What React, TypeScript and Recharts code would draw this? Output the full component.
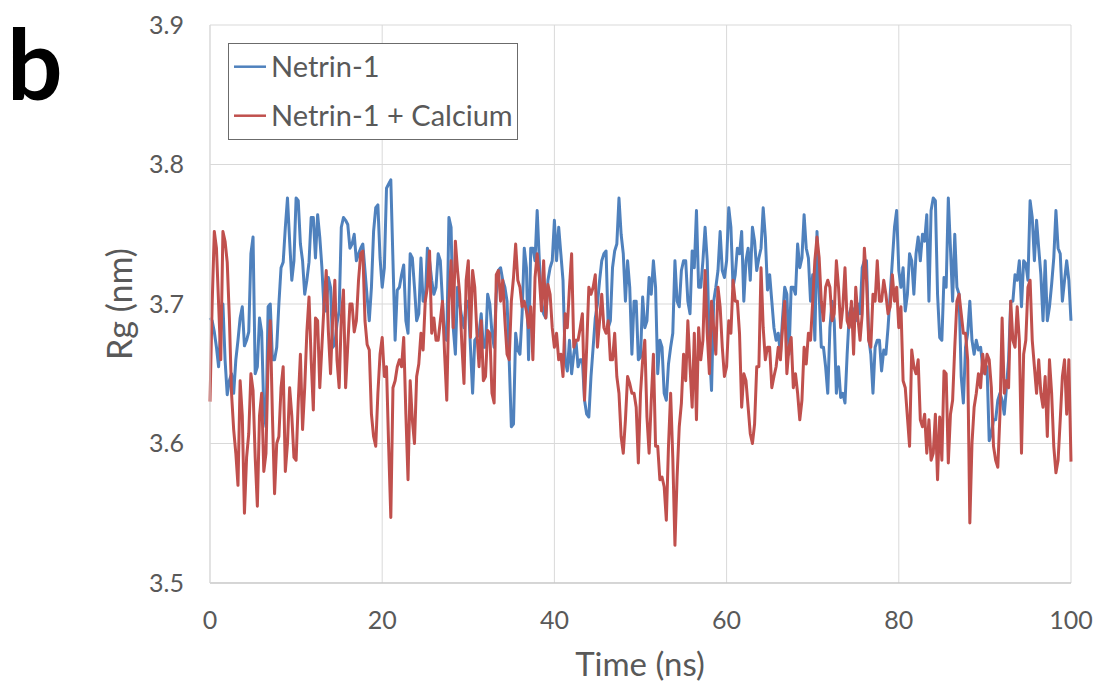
import React from 'react';
import { LineChart, Line, XAxis, YAxis, CartesianGrid, Legend } from 'recharts';

// Rg (nm) — Netrin-1, read at t = 0, 0.5, 1.0 ... 100 ns
const netrinHalf: number[] = [
  3.69, 3.68, 3.655, 3.70, 3.635, 3.65, 3.66, 3.69, 3.67, 3.68, 3.748, 3.655, 3.68, 3.612, 3.70, 3.66, 3.70, 3.73, 3.776, 3.717,
  3.776, 3.743, 3.707, 3.73, 3.762, 3.764, 3.726, 3.695, 3.712, 3.671, 3.695, 3.762, 3.757, 3.743,
  3.731, 3.74, 3.724, 3.688, 3.752, 3.771, 3.712, 3.783, 3.789, 3.674, 3.712, 3.728, 3.679, 3.733, 3.688, 3.733, 3.702, 3.731,
  3.707, 3.736, 3.702, 3.674, 3.755, 3.664, 3.70, 3.683, 3.702, 3.636, 3.676, 3.693, 3.669, 3.70, 3.669, 3.724,
  3.717, 3.702, 3.612, 3.679, 3.664, 3.74, 3.66, 3.74, 3.767, 3.702, 3.69, 3.726, 3.76, 3.755, 3.717, 3.652, 3.65, 3.674,
  3.66, 3.631, 3.619, 3.669, 3.70, 3.731, 3.738, 3.688, 3.738, 3.776, 3.736, 3.731, 3.664, 3.702, 3.662,
  3.683, 3.719, 3.731, 3.65, 3.669, 3.631, 3.669, 3.731, 3.698, 3.731, 3.702, 3.738, 3.767, 3.712, 3.755, 3.669, 3.702, 3.724,
  3.724, 3.731, 3.755, 3.721, 3.736, 3.702, 3.74, 3.755, 3.724, 3.74, 3.748, 3.721, 3.683, 3.679, 3.69, 3.707,
  3.712, 3.707, 3.726, 3.764, 3.733, 3.721, 3.752, 3.669, 3.655, 3.683, 3.688, 3.655, 3.636, 3.664, 3.698, 3.688, 3.693, 3.731,
  3.676, 3.636, 3.674, 3.652, 3.664, 3.707, 3.755, 3.724, 3.726, 3.707, 3.731, 3.736, 3.731, 3.745, 3.702, 3.776,
  3.707, 3.674, 3.712, 3.74, 3.75, 3.707, 3.629, 3.679, 3.674, 3.674, 3.669, 3.65, 3.602, 3.617, 3.631, 3.631, 3.64, 3.702,
  3.721, 3.731, 3.731, 3.717, 3.762, 3.76, 3.721, 3.731, 3.698, 3.733, 3.74, 3.702, 3.731, 3.688,
];

// Rg (nm) — Netrin-1, read at t = 0.25, 0.75 ... 99.75 ns
const netrinQuarter: number[] = [
  3.688, 3.669, 3.683, 3.66, 3.645, 3.636, 3.674, 3.698, 3.674, 3.736, 3.65, 3.69, 3.624, 3.698, 3.66, 3.669, 3.726, 3.755,
  3.745, 3.731, 3.774, 3.731, 3.717, 3.762, 3.733, 3.748, 3.695, 3.719, 3.669, 3.686, 3.755, 3.76, 3.74, 3.75,
  3.736, 3.743, 3.705, 3.712, 3.769, 3.733, 3.726, 3.786, 3.731, 3.71, 3.721, 3.688, 3.736, 3.712, 3.693, 3.702, 3.74, 3.717,
  3.712, 3.731, 3.676, 3.762, 3.683, 3.712, 3.69, 3.702, 3.669, 3.674, 3.679, 3.669, 3.707, 3.679, 3.707, 3.726,
  3.712, 3.66, 3.614, 3.667, 3.693, 3.726, 3.74, 3.731, 3.731, 3.693, 3.717, 3.731, 3.731, 3.736, 3.66, 3.674,
  3.664, 3.655, 3.66, 3.621, 3.648, 3.69, 3.717, 3.736, 3.683, 3.726, 3.743, 3.75, 3.702, 3.712, 3.702, 3.66,
  3.705, 3.688, 3.707, 3.712, 3.674, 3.636, 3.657, 3.679, 3.702, 3.724, 3.731, 3.693, 3.726, 3.712, 3.731, 3.731, 3.638, 3.712,
  3.752, 3.719, 3.769, 3.712, 3.74, 3.752, 3.731, 3.717, 3.745, 3.733, 3.769, 3.71, 3.702, 3.674, 3.664, 3.712,
  3.664, 3.712, 3.743, 3.733, 3.74, 3.702, 3.674, 3.707, 3.669, 3.636, 3.702, 3.636, 3.633, 3.629, 3.693, 3.695, 3.70, 3.726,
  3.731, 3.664, 3.669, 3.674, 3.667, 3.683, 3.731, 3.767, 3.712, 3.695, 3.736, 3.707, 3.748, 3.75, 3.764, 3.767,
  3.774, 3.676, 3.719, 3.776, 3.702, 3.712, 3.648, 3.669, 3.702, 3.664, 3.667, 3.655, 3.655, 3.607, 3.617, 3.636,
  3.621, 3.66, 3.702, 3.717, 3.698, 3.729, 3.774, 3.731, 3.74, 3.688, 3.688, 3.714, 3.767, 3.736, 3.717, 3.717,
];

// Rg (nm) — Netrin-1 + Calcium, read at t = 0, 0.5, 1.0 ... 100 ns
const calciumHalf: number[] = [
  3.63, 3.752, 3.70, 3.752, 3.73, 3.636, 3.593, 3.645, 3.55, 3.607, 3.638, 3.555, 3.636, 3.593, 3.688, 3.564, 3.605, 3.655,
  3.60, 3.62, 3.588, 3.664, 3.64, 3.705, 3.624, 3.688, 3.67, 3.724, 3.65, 3.717, 3.64, 3.71, 3.67, 3.70,
  3.688, 3.736, 3.688, 3.667, 3.605, 3.636, 3.676, 3.655, 3.547, 3.645, 3.66, 3.676, 3.574, 3.617, 3.648, 3.679, 3.702, 3.738,
  3.69, 3.674, 3.702, 3.631, 3.731, 3.745, 3.707, 3.643, 3.731, 3.724, 3.679, 3.688, 3.648, 3.679, 3.629, 3.724,
  3.717, 3.664, 3.702, 3.743, 3.712, 3.702, 3.683, 3.66, 3.736, 3.695, 3.69, 3.707, 3.669, 3.66, 3.648, 3.683, 3.736, 3.674,
  3.683, 3.631, 3.712, 3.712, 3.669, 3.707, 3.679, 3.66, 3.679, 3.636, 3.593, 3.648, 3.636, 3.626, 3.636,
  3.674, 3.593, 3.664, 3.598, 3.576, 3.545, 3.636, 3.527, 3.612, 3.664, 3.688, 3.626, 3.617, 3.66, 3.724, 3.65, 3.683, 3.712,
  3.669, 3.655, 3.679, 3.702, 3.679, 3.65, 3.626, 3.60, 3.655, 3.726, 3.66, 3.669, 3.648, 3.669, 3.683, 3.65,
  3.676, 3.65, 3.617, 3.669, 3.679, 3.702, 3.748, 3.702, 3.712, 3.712, 3.693, 3.712, 3.698, 3.688, 3.702, 3.712, 3.674, 3.74,
  3.674, 3.707, 3.731, 3.702, 3.707, 3.698, 3.702, 3.683, 3.645, 3.619, 3.667, 3.65, 3.617, 3.621, 3.617, 3.593,
  3.574, 3.588, 3.65, 3.621, 3.669, 3.707, 3.679, 3.66, 3.60, 3.636, 3.64, 3.65, 3.66, 3.598, 3.583, 3.69, 3.645, 3.702,
  3.669, 3.674, 3.664, 3.712, 3.674, 3.636, 3.636, 3.648, 3.66, 3.598, 3.588, 3.648, 3.621, 3.587,
];

// Rg (nm) — Netrin-1 + Calcium, read at t = 0.25, 0.75 ... 99.75 ns
const calciumQuarter: number[] = [
  3.70, 3.74, 3.66, 3.745, 3.69, 3.61, 3.57, 3.62, 3.59, 3.65, 3.59, 3.62, 3.58, 3.66, 3.62, 3.60, 3.64, 3.58,
  3.64, 3.59, 3.63, 3.61, 3.68, 3.66, 3.69, 3.64, 3.70, 3.68, 3.69, 3.66, 3.69, 3.64, 3.70, 3.68,
  3.717, 3.738, 3.671, 3.621, 3.598, 3.664, 3.648, 3.598, 3.64, 3.655, 3.655, 3.621, 3.645, 3.60, 3.657, 3.667, 3.712, 3.679,
  3.674, 3.688, 3.664, 3.702, 3.683, 3.724, 3.671, 3.717, 3.676, 3.712, 3.655, 3.645, 3.681, 3.636, 3.721, 3.702,
  3.688, 3.66, 3.719, 3.717, 3.698, 3.695, 3.698, 3.719, 3.719, 3.731, 3.714, 3.683, 3.679, 3.664, 3.693, 3.712,
  3.669, 3.674, 3.693, 3.669, 3.707, 3.721, 3.688, 3.683, 3.688, 3.66, 3.648, 3.605, 3.617, 3.643, 3.636, 3.586,
  3.66, 3.619, 3.631, 3.598, 3.574, 3.569, 3.598, 3.59, 3.576, 3.629, 3.645, 3.655, 3.679, 3.683, 3.674, 3.679, 3.702, 3.664,
  3.698, 3.648, 3.688, 3.717, 3.702, 3.626, 3.645, 3.607, 3.614, 3.655, 3.683, 3.669, 3.64, 3.655, 3.66, 3.702,
  3.669, 3.64, 3.636, 3.631, 3.657, 3.674, 3.731, 3.733, 3.688, 3.717, 3.688, 3.731, 3.683, 3.726, 3.683, 3.664, 3.69, 3.693,
  3.717, 3.669, 3.702, 3.702, 3.717, 3.693, 3.721, 3.712, 3.698, 3.64, 3.598, 3.655, 3.66, 3.612, 3.593, 3.588,
  3.621, 3.619, 3.652, 3.586, 3.631, 3.702, 3.693, 3.679, 3.543, 3.626, 3.65, 3.664, 3.664, 3.64, 3.588, 3.621,
  3.636, 3.64, 3.674, 3.698, 3.593, 3.674, 3.717, 3.655, 3.66, 3.626, 3.605, 3.636, 3.579, 3.617, 3.66, 3.66,
];

const xTicks: number[] = [0, 20, 40, 60, 80, 100];
const yTicks: number[] = [3.5, 3.6, 3.7, 3.8, 3.9];

const seriesNames = { netrin: 'Netrin-1', calcium: 'Netrin-1 + Calcium' };
const colors = { netrin: '#4F81BD', calcium: '#C0504D' };

// Merge the two sampling grids into one time-ordered table
const rows: { t: number; netrin: number; calcium: number }[] = [];
netrinHalf.forEach((v, i) => {
  rows.push({ t: i * 0.5, netrin: v, calcium: calciumHalf[i] });
  if (i < netrinQuarter.length) {
    rows.push({ t: i * 0.5 + 0.25, netrin: netrinQuarter[i], calcium: calciumQuarter[i] });
  }
});

const FONT = 'Lato, "Open Sans", sans-serif';
const TEXT = '#595959';

function LegendBox(props: any) {
  const payload = props.payload || [];
  return (
    <svg width={288} height={95} style={{ display: 'block' }}>
      {payload.map((e: any, i: number) => {
        const cy = 22.7 + i * 49;
        return (
          <g key={i}>
            <line x1={5} x2={37} y1={cy} y2={cy} stroke={e.color} strokeWidth={2.5} />
            <text x={42} y={cy + 10} fontSize={29} fontFamily={FONT} fill={TEXT}>
              {e.value}
            </text>
          </g>
        );
      })}
    </svg>
  );
}

export default function App() {
  return (
    <div style={{ position: 'absolute', left: 0, top: 0, width: 1110, height: 688, background: '#fff' }}>
      <LineChart width={1110} height={688} data={rows} margin={{ top: 25, right: 39, left: 0, bottom: 0 }}>
        <CartesianGrid stroke="#D9D9D9" strokeWidth={1} />
        <XAxis
          dataKey="t"
          type="number"
          domain={[0, 100]}
          ticks={xTicks}
          height={105}
          tickLine={false}
          tickSize={0}
          tickMargin={28}
          axisLine={{ stroke: '#BFBFBF', strokeWidth: 1 }}
          tick={{ fill: TEXT, fontSize: 25, fontFamily: FONT }}
          interval={0}
        />
        <YAxis
          type="number"
          domain={[3.5, 3.9]}
          ticks={yTicks}
          width={210}
          tickLine={false}
          tickSize={0}
          tickMargin={26}
          axisLine={{ stroke: '#D9D9D9', strokeWidth: 1 }}
          tick={{ fill: TEXT, fontSize: 25, fontFamily: FONT }}
          tickFormatter={(v: number) => v.toFixed(1)}
          interval={0}
          allowDataOverflow
        />
        <Legend
          layout="horizontal"
          verticalAlign="middle"
          align="center"
          content={<LegendBox />}
          wrapperStyle={{
            position: 'absolute',
            left: 228,
            top: 43,
            width: 290,
            height: 97,
            border: '1px solid #6b6b6b',
            boxSizing: 'border-box',
            background: '#fff',
          }}
        />
        <Line
          type="linear"
          dataKey="netrin"
          name={seriesNames.netrin}
          stroke={colors.netrin}
          strokeWidth={3}
          strokeLinejoin="round"
          dot={false}
          isAnimationActive={false}
        />
        <Line
          type="linear"
          dataKey="calcium"
          name={seriesNames.calcium}
          stroke={colors.calcium}
          strokeWidth={3}
          strokeLinejoin="round"
          dot={false}
          isAnimationActive={false}
        />
      </LineChart>
      <svg
        width={1110}
        height={688}
        style={{ position: 'absolute', left: 0, top: 0, pointerEvents: 'none' }}
      >
        <text x={7} y={100} fontSize={98} fontWeight="bold" fontFamily={FONT} fill="#000">
          b
        </text>
        <text x={640} y={676} fontSize={33} fontFamily={FONT} fill={TEXT} textAnchor="middle">
          Time (ns)
        </text>
        <text
          x={132}
          y={304}
          fontSize={34}
          fontFamily={FONT}
          fill={TEXT}
          textAnchor="middle"
          transform="rotate(-90, 132, 304)"
        >
          Rg (nm)
        </text>
      </svg>
    </div>
  );
}
